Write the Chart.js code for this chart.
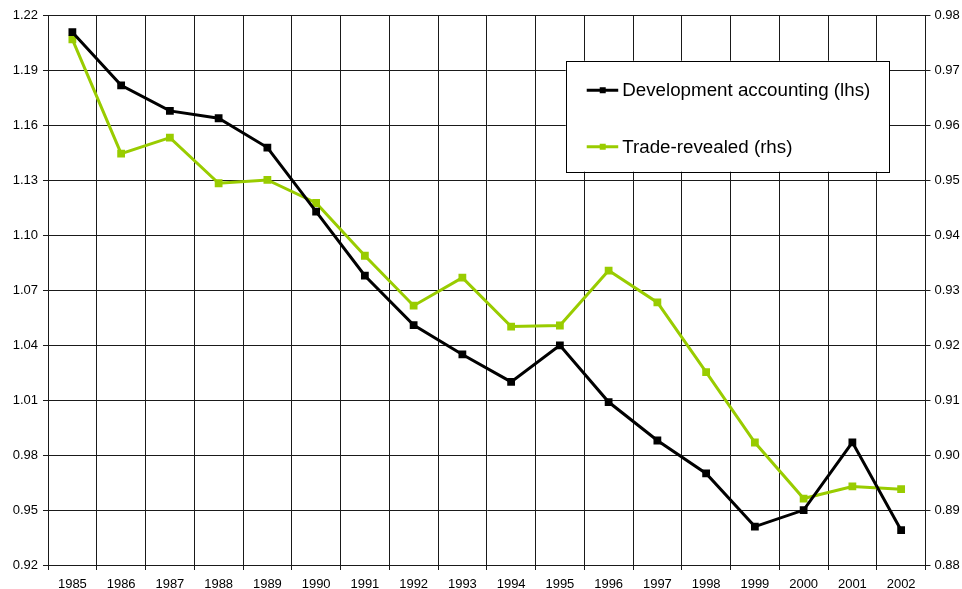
<!DOCTYPE html>
<html>
<head>
<meta charset="utf-8">
<script src="https://cdn.jsdelivr.net/npm/chart.js"></script>
<style>
  html, body { margin: 0; padding: 0; background: #fff; }
  #wrap { width: 962px; height: 589px; position: relative; }
</style>
</head>
<body>
<div id="wrap"><canvas id="myChart"></canvas></div>
<script>
// years on the x axis
const years = ['1985','1986','1987','1988','1989','1990','1991','1992','1993',
               '1994','1995','1996','1997','1998','1999','2000','2001','2002'];
// left hand scale series
const devAccounting = [1.211, 1.182, 1.168, 1.164, 1.148, 1.113, 1.078, 1.051, 1.035,
                       1.020, 1.040, 1.009, 0.988, 0.970, 0.941, 0.950, 0.987, 0.939];
// right hand scale series
const tradeRevealed = [0.9757, 0.9549, 0.9578, 0.9495, 0.9501, 0.9459, 0.9363, 0.9272, 0.9323,
                       0.9234, 0.9236, 0.9336, 0.9278, 0.9151, 0.9023, 0.8921, 0.8943, 0.8938];
const leftTicks = [0.92, 0.95, 0.98, 1.01, 1.04, 1.07, 1.10, 1.13, 1.16, 1.19, 1.22];
const rightTicks = [0.88, 0.89, 0.90, 0.91, 0.92, 0.93, 0.94, 0.95, 0.96, 0.97, 0.98];

const FONT = 'Arial, "Liberation Sans", sans-serif';
const GREEN = '#99cc00';

// legend drawn inside the plot, Excel style
const boxLegend = {
    id: 'boxLegend',
    afterDraw(chart) {
        const ctx = chart.ctx;
        const a = chart.chartArea;
        const w = a.right - a.left, h = a.bottom - a.top;
        const x0 = a.left + w * 0.59, x1 = a.left + w * 0.9585;
        const y0 = a.top + h * 0.082, y1 = a.top + h * 0.284;
        ctx.save();
        ctx.fillStyle = '#fff';
        ctx.fillRect(x0, y0, x1 - x0, y1 - y0);
        ctx.strokeStyle = '#000';
        ctx.lineWidth = 1;
        ctx.strokeRect(Math.round(x0) + 0.5, Math.round(y0) + 0.5, Math.round(x1 - x0), Math.round(y1 - y0));
        const rows = [y0 + 29.5, y0 + 86];
        chart.data.datasets.forEach((ds, i) => {
            const y = rows[i];
            ctx.strokeStyle = ds.borderColor;
            ctx.lineWidth = 3;
            ctx.beginPath();
            ctx.moveTo(x0 + 21, y);
            ctx.lineTo(x0 + 52.5, y);
            ctx.stroke();
            ctx.fillStyle = ds.borderColor;
            ctx.fillRect(x0 + 34, y - 3, 6, 6);
            ctx.fillStyle = '#000';
            ctx.font = '18.75px ' + FONT;
            ctx.textBaseline = 'middle';
            ctx.textAlign = 'left';
            ctx.fillText(ds.label, x0 + 56.5, y + 1);
        });
        ctx.restore();
    }
};

const ctx = document.getElementById('myChart').getContext('2d');
const myChart = new Chart(ctx, {
    type: 'line',
    data: {
        labels: years,
        datasets: [
            {
                label: 'Development accounting (lhs)',
                data: devAccounting,
                yAxisID: 'y',
                borderColor: '#000',
                backgroundColor: '#000',
                borderWidth: 3,
                pointStyle: 'rect',
                pointRadius: 5.5,
                pointBackgroundColor: '#000',
                pointBorderColor: '#000',
                pointBorderWidth: 0,
                fill: false,
                tension: 0,
                order: 1
            },
            {
                label: 'Trade-revealed (rhs)',
                data: tradeRevealed,
                yAxisID: 'y2',
                borderColor: GREEN,
                backgroundColor: GREEN,
                borderWidth: 3,
                pointStyle: 'rect',
                pointRadius: 5.5,
                pointBackgroundColor: GREEN,
                pointBorderColor: GREEN,
                pointBorderWidth: 0,
                fill: false,
                tension: 0,
                order: 2
            }
        ]
    },
    options: {
        responsive: true,
        maintainAspectRatio: false,
        animation: false,
        layout: { padding: { top: 15.7, left: 0, right: 0, bottom: 0 } },
        plugins: {
            legend: { display: false },
            tooltip: { enabled: false }
        },
        scales: {
            x: {
                offset: true,
                grid: {
                    offset: true,
                    color: '#1a1a1a',
                    lineWidth: 1,
                    tickLength: 5,
                    tickColor: '#1a1a1a'
                },
                border: { color: '#1a1a1a', width: 1 },
                ticks: {
                    color: '#000',
                    font: { family: FONT, size: 13 },
                    padding: 7,
                    maxRotation: 0,
                    autoSkip: false
                },
                afterFit(scale) { scale.height = 24; }
            },
            y: {
                position: 'left',
                min: 0.92,
                max: 1.22,
                afterBuildTicks(scale) { scale.ticks = leftTicks.map(v => ({ value: v })); },
                grid: {
                    color: '#1a1a1a',
                    lineWidth: 1,
                    tickLength: 5,
                    tickColor: '#1a1a1a'
                },
                border: { color: '#1a1a1a', width: 1 },
                ticks: {
                    color: '#000',
                    font: { family: FONT, size: 13 },
                    padding: 5,
                    callback: v => Number(v).toFixed(2)
                },
                afterFit(scale) { scale.width = 48; }
            },
            y2: {
                position: 'right',
                min: 0.88,
                max: 0.98,
                afterBuildTicks(scale) { scale.ticks = rightTicks.map(v => ({ value: v })); },
                grid: {
                    drawOnChartArea: false,
                    tickLength: 5,
                    tickColor: '#1a1a1a'
                },
                border: { color: '#1a1a1a', width: 1 },
                ticks: {
                    color: '#000',
                    font: { family: FONT, size: 13 },
                    padding: 4,
                    callback: v => Number(v).toFixed(2)
                },
                afterFit(scale) { scale.width = 36.5; }
            }
        }
    },
    plugins: [boxLegend]
});
</script>
</body>
</html>
